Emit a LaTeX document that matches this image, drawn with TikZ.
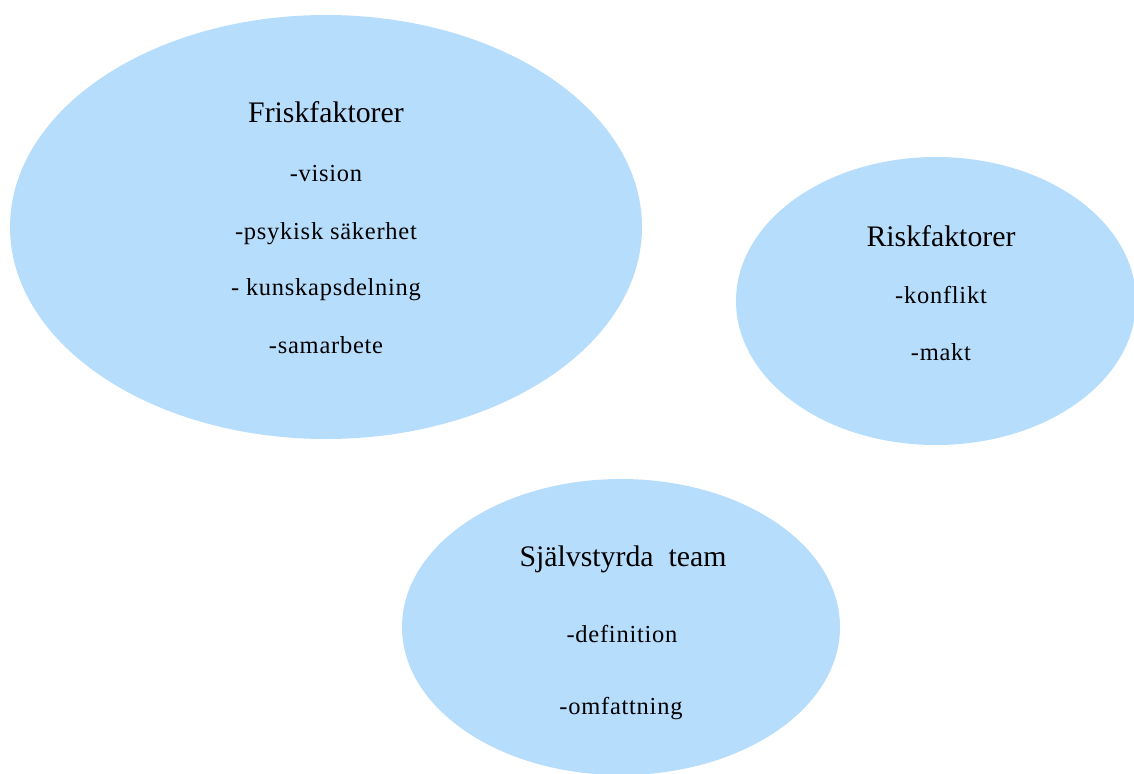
\documentclass[tikz,border=0pt]{standalone}
\usepackage{fontspec}
\setmainfont{Liberation Serif}
\newfontfamily\itemfont[LetterSpace=3]{Liberation Serif}
\usetikzlibrary{shapes.geometric}
\definecolor{bubble}{RGB}{183,221,253}
\tikzset{
  bubblebox/.style={ellipse, fill=bubble, draw=none, inner sep=0pt},
  titletext/.style={anchor=base, font=\fontsize{29.8}{34}\selectfont, text=black},
  itemtext/.style={anchor=base, font=\itemfont\fontsize{24.5}{29}\selectfont, text=black},
}
\begin{document}
\begin{tikzpicture}[x=1pt,y=-1pt]
\useasboundingbox (0,0) rectangle (1134,773);
\clip (0,0) rectangle (1134,773);
\node[bubblebox, minimum width=632pt, minimum height=424pt] (frisk) at (326,227) {};
\node[bubblebox, minimum width=400pt, minimum height=288pt] (risk) at (936,301) {};
\node[bubblebox, minimum width=438pt, minimum height=296pt] (team) at (621,627) {};
% Friskfaktorer
\node[titletext] (friskT) at (326,123) {Friskfaktorer};
\node[itemtext] (f1) at (326,181) {-vision};
\node[itemtext] (f2) at (326,239) {-psykisk säkerhet};
\node[itemtext] (f3) at (326,295) {- kunskapsdelning};
\node[itemtext] (f4) at (326,353) {-samarbete};
% Riskfaktorer
\node[titletext] (riskT) at (941,246) {Riskfaktorer};
\node[itemtext] (r1) at (941,303) {-konflikt};
\node[itemtext] (r2) at (941,360) {-makt};
% Självstyrda team
\node[titletext] (teamT) at (623,566) {Självstyrda\ \ team};
\node[itemtext] (t1) at (622,642) {-definition};
\node[itemtext] (t2) at (621,714) {-omfattning};
\end{tikzpicture}
\end{document}
